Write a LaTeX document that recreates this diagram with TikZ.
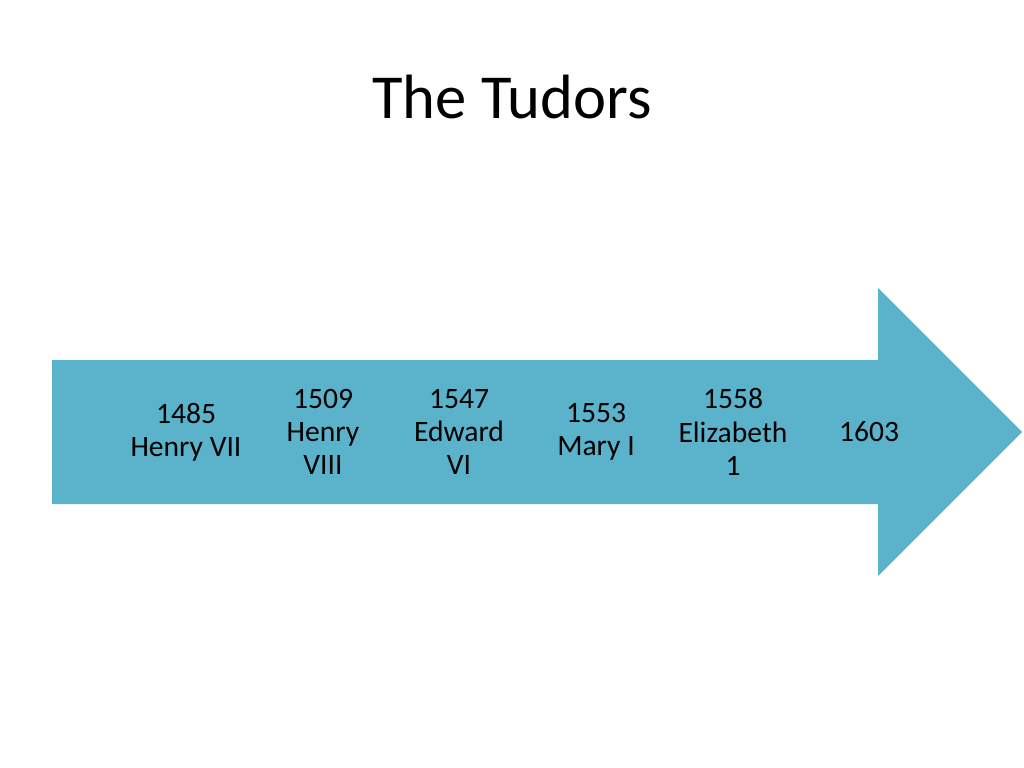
\documentclass[tikz,border=0pt]{standalone}
\usepackage{fontspec}
\setmainfont{Carlito}
\definecolor{arrowblue}{RGB}{91,179,203}
\begin{document}
\begin{tikzpicture}[x=0.703125pt, y=-0.703125pt,
    lbl/.style={align=center, font=\fontsize{20.8}{23.4}\selectfont, text=black, inner sep=0pt}]
            \useasboundingbox (0,0) rectangle (1024,768);
            \fill[arrowblue] (52,360) -- (878,360) -- (878,288) -- (1022,432) -- (878,576) -- (878,504) -- (52,504) -- cycle;
            \node (title) at (512,97) {\fontsize{44}{52}\selectfont The Tudors};
            \node[lbl] (h7) at (186,432) {1485\\Henry VII};
            \node[lbl] (h8) at (323,432) {1509\\Henry\\VIII};
            \node[lbl] (e6) at (459,432) {1547\\Edward\\VI};
            \node[lbl] (m1) at (596,432) {1553\\Mary I};
            \node[lbl] (el) at (733,432) {1558\\Elizabeth\\1};
            \node[lbl] (end) at (869,432) {1603};
        \end{tikzpicture}
\end{document}
